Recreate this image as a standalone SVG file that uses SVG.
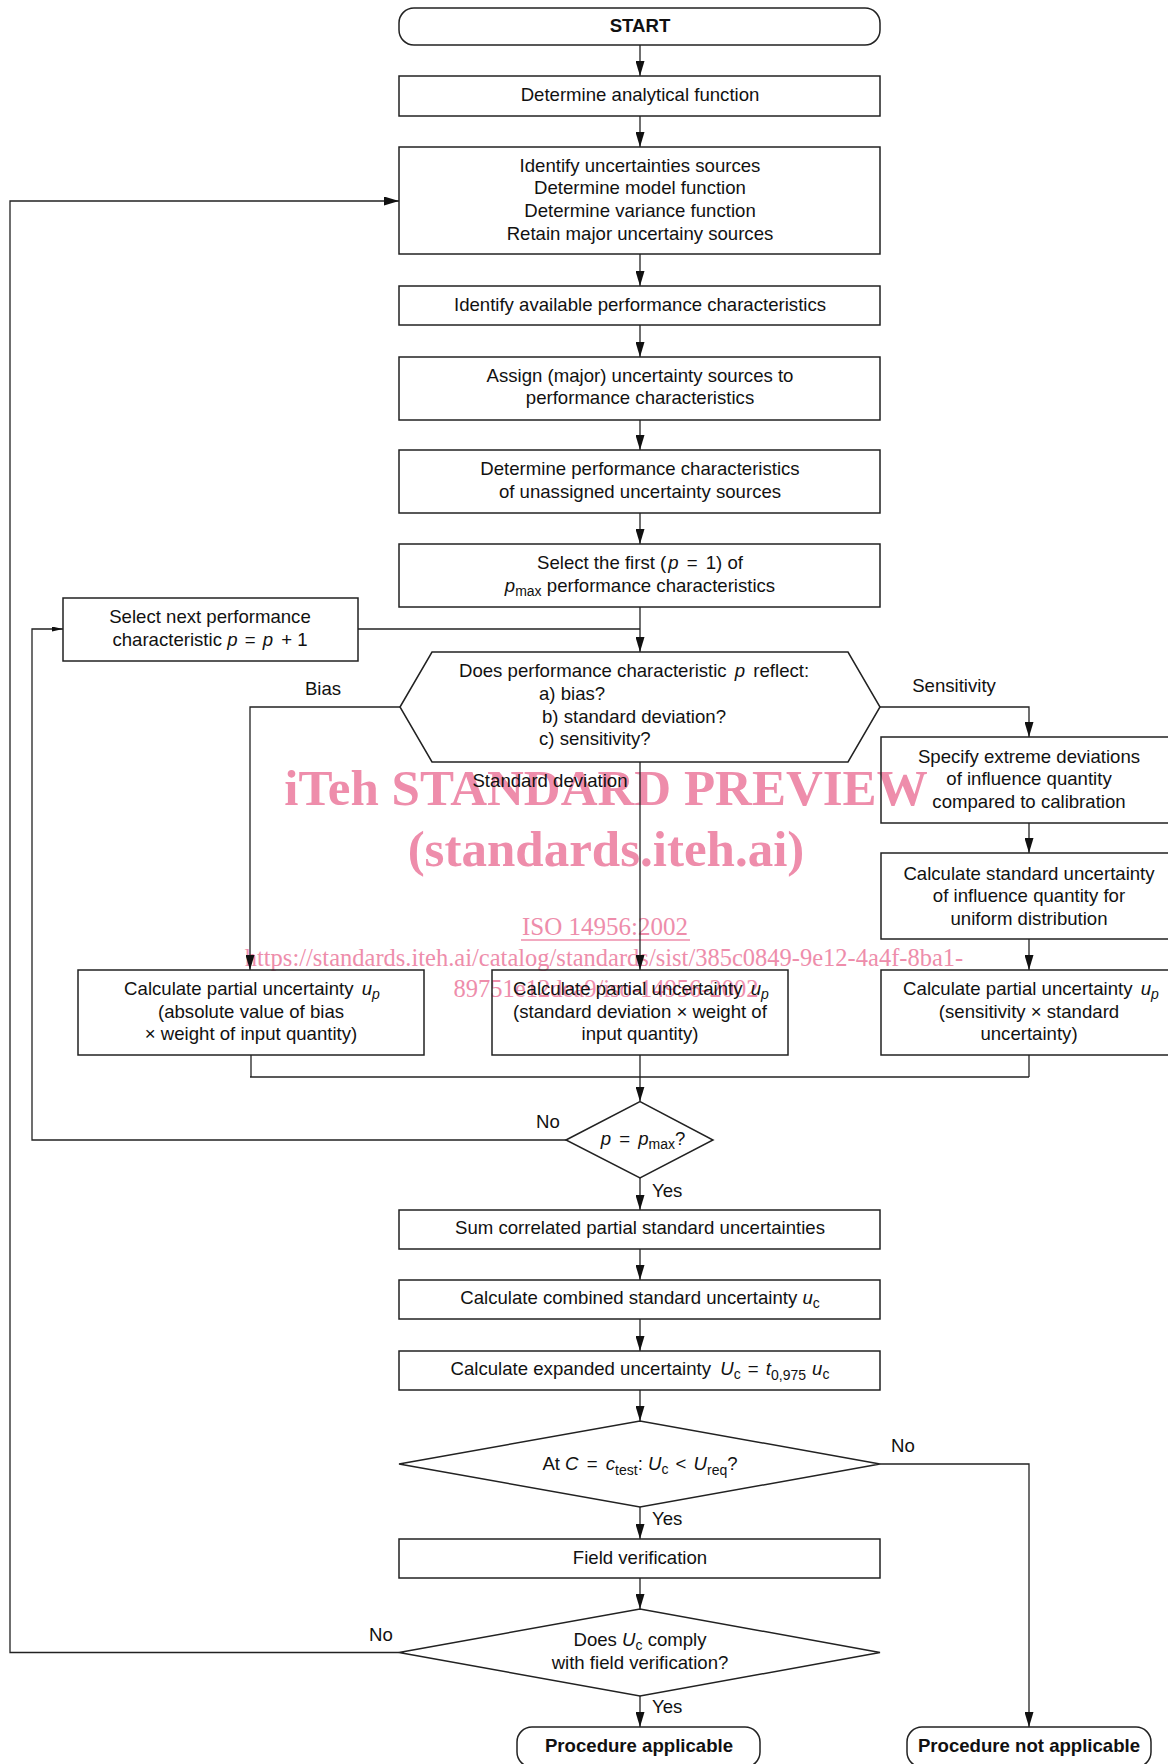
<svg xmlns="http://www.w3.org/2000/svg" width="1168" height="1764" viewBox="0 0 1168 1764">
<defs>
<style>
text { font-family: "Liberation Sans", Arial, sans-serif; font-size: 18.6px; fill: #111; }
.c { text-anchor: middle; }
.b { font-weight: bold; }
.i { font-style: italic; }
.s { font-size: 14px; }
.box { fill: none; stroke: #222; stroke-width: 1.5; }
.ln { fill: none; stroke: #222; stroke-width: 1.3; }
.ar { marker-end: url(#arr); }
.ars { marker-end: url(#arrs); }
.wm { font-family: "Liberation Serif", "Times New Roman", serif; fill: #ee8dab; }
.wmb { font-size: 51px; font-weight: bold; }
.wmr { font-size: 24.5px; }
</style>
<marker id="arr" markerWidth="15" markerHeight="9" refX="15" refY="4.5" orient="auto" markerUnits="userSpaceOnUse"><path d="M0,0 L15,4.5 L0,9 z" fill="#111"/></marker>
<marker id="arrs" markerWidth="11" markerHeight="5" refX="11" refY="2.5" orient="auto" markerUnits="userSpaceOnUse"><path d="M0,0 L11,2.5 L0,5 z" fill="#111"/></marker>
</defs>
<rect x="0" y="0" width="1168" height="1764" fill="#fff"/>

<g id="watermark">
<text class="wm wmb c" x="606" y="805">iTeh STANDARD PREVIEW</text>
<text class="wm wmb c" x="606" y="866">(standards.iteh.ai)</text>
<text class="wm c" x="605" y="935" style="font-size:25px">ISO 14956:2002</text>
<line x1="521" y1="940" x2="690" y2="940" stroke="#ee8dab" stroke-width="1.5"/>
<text class="wm wmr c" x="604" y="966">https://standards.iteh.ai/catalog/standards/sist/385c0849-9e12-4a4f-8ba1-</text>
<text class="wm wmr c" x="606" y="997">89751e12dea9/iso-14956-2002</text>
</g>

<g id="connectors">
<line class="ln ar" x1="640" y1="45" x2="640" y2="76"/>
<line class="ln ar" x1="640" y1="116" x2="640" y2="147"/>
<line class="ln ar" x1="640" y1="254" x2="640" y2="286"/>
<line class="ln ar" x1="640" y1="325" x2="640" y2="357"/>
<line class="ln ar" x1="640" y1="420" x2="640" y2="450"/>
<line class="ln ar" x1="640" y1="513" x2="640" y2="544"/>
<line class="ln ar" x1="640" y1="607" x2="640" y2="652"/>
<line class="ln" x1="358" y1="629" x2="640" y2="629"/>
<polyline class="ln ar" points="400,707 250,707 250,970"/>
<line class="ln ar" x1="640" y1="762" x2="640" y2="970"/>
<polyline class="ln ar" points="880,707 1029,707 1029,737"/>
<line class="ln ar" x1="1029" y1="823" x2="1029" y2="853"/>
<line class="ln ar" x1="1029" y1="939" x2="1029" y2="970"/>
<line class="ln" x1="251" y1="1055" x2="251" y2="1077"/>
<line class="ln" x1="640" y1="1055" x2="640" y2="1077"/>
<line class="ln" x1="1029" y1="1055" x2="1029" y2="1077"/>
<line class="ln" x1="250" y1="1077" x2="1029" y2="1077"/>
<line class="ln ar" x1="640" y1="1077" x2="640" y2="1101.5"/>
<polyline class="ln ars" points="566,1140 32,1140 32,629 63,629"/>
<line class="ln ar" x1="640" y1="1178" x2="640" y2="1210"/>
<line class="ln ar" x1="640" y1="1249" x2="640" y2="1280"/>
<line class="ln ar" x1="640" y1="1319" x2="640" y2="1351"/>
<line class="ln ar" x1="640" y1="1390" x2="640" y2="1421"/>
<polyline class="ln ar" points="880,1464 1029,1464 1029,1727"/>
<line class="ln ar" x1="640" y1="1507" x2="640" y2="1539"/>
<line class="ln ar" x1="640" y1="1578" x2="640" y2="1609"/>
<polyline class="ln ar" points="399,1652.5 10,1652.5 10,201 399,201"/>
<line class="ln ar" x1="640" y1="1696" x2="640" y2="1727"/>
<text class="c" x="323" y="695">Bias</text>
<text class="c" x="954" y="691.5">Sensitivity</text>
<text class="c" x="550" y="787">Standard deviation</text>
<text class="c" x="548" y="1128">No</text>
<text x="652" y="1196.5">Yes</text>
<text class="c" x="903" y="1451.5">No</text>
<text x="652" y="1525">Yes</text>
<text class="c" x="381" y="1641">No</text>
<text x="652" y="1713">Yes</text>
</g>

<g id="start">
<rect class="box" x="399" y="8" width="481" height="37" rx="15"/>
<text class="c b" x="640" y="32">START</text>
</g>
<g id="analytical">
<rect class="box" x="399" y="76" width="481" height="40"/>
<text class="c" x="640" y="101">Determine analytical function</text>
</g>
<g id="identify-sources">
<rect class="box" x="399" y="147" width="481" height="107"/>
<text class="c" x="640" y="171.6">Identify uncertainties sources</text>
<text class="c" x="640" y="194.3">Determine model function</text>
<text class="c" x="640" y="217">Determine variance function</text>
<text class="c" x="640" y="239.7">Retain major uncertainy sources</text>
</g>
<g id="available">
<rect class="box" x="399" y="286" width="481" height="39"/>
<text class="c" x="640" y="310.5">Identify available performance characteristics</text>
</g>
<g id="assign">
<rect class="box" x="399" y="357" width="481" height="63"/>
<text class="c" x="640" y="381.7">Assign (major) uncertainty sources to</text>
<text class="c" x="640" y="404.3">performance characteristics</text>
</g>
<g id="determine-perf">
<rect class="box" x="399" y="450" width="481" height="63"/>
<text class="c" x="640" y="475.2">Determine performance characteristics</text>
<text class="c" x="640" y="497.8">of unassigned uncertainty  sources</text>
</g>
<g id="select-first">
<rect class="box" x="399" y="544" width="481" height="63"/>
<text class="c" x="640" y="569">Select the first (<tspan class="i" dx="2">p</tspan><tspan dx="3"> = </tspan><tspan dx="3">1) of</tspan></text>
<text class="c" x="640" y="591.7"><tspan class="i">p</tspan><tspan class="s" dy="4">max</tspan><tspan dy="-4"> performance characteristics</tspan></text>
</g>
<g id="select-next">
<rect class="box" x="63" y="598" width="295" height="63"/>
<text class="c" x="210" y="623">Select next performance</text>
<text class="c" x="210" y="645.5">characteristic <tspan class="i">p</tspan><tspan dx="2"> = </tspan><tspan class="i" dx="2">p</tspan><tspan dx="3"> + 1</tspan></text>
</g>
<g id="reflect">
<polygon class="box" points="400,707 432,652 848,652 880,707 848,762 432,762"/>
<text x="459" y="677">Does performance characteristic <tspan class="i" dx="3">p</tspan><tspan dx="3"> reflect:</tspan></text>
<text x="539" y="700">a) bias?</text>
<text x="542" y="722.5">b) standard deviation?</text>
<text x="539" y="745">c) sensitivity?</text>
</g>
<g id="specify">
<rect class="box" x="881" y="737" width="300" height="86"/>
<text class="c" x="1029" y="762.5">Specify extreme deviations</text>
<text class="c" x="1029" y="785.2">of influence quantity</text>
<text class="c" x="1029" y="807.9">compared to calibration</text>
</g>
<g id="calc-standard">
<rect class="box" x="881" y="853" width="300" height="86"/>
<text class="c" x="1029" y="879.5">Calculate standard uncertainty</text>
<text class="c" x="1029" y="902.2">of influence quantity for</text>
<text class="c" x="1029" y="924.9">uniform distribution</text>
</g>
<g id="partial-bias">
<rect class="box" x="78" y="970" width="346" height="85"/>
<text class="c" x="252" y="995">Calculate partial uncertainty <tspan class="i" dx="3">u</tspan><tspan class="i s" dy="4">p</tspan></text>
<text class="c" x="251" y="1017.7">(absolute value of bias</text>
<text class="c" x="251" y="1040.4">× weight of input quantity)</text>
</g>
<g id="partial-sd">
<rect class="box" x="492" y="970" width="296" height="85"/>
<text class="c" x="641" y="995">Calculate partial uncertainty <tspan class="i" dx="3">u</tspan><tspan class="i s" dy="4">p</tspan></text>
<text class="c" x="640" y="1017.7">(standard deviation × weight of</text>
<text class="c" x="640" y="1040.4">input quantity)</text>
</g>
<g id="partial-sens">
<rect class="box" x="881" y="970" width="300" height="85"/>
<text class="c" x="1031" y="995">Calculate partial uncertainty <tspan class="i" dx="3">u</tspan><tspan class="i s" dy="4">p</tspan></text>
<text class="c" x="1029" y="1017.7">(sensitivity × standard</text>
<text class="c" x="1029" y="1040.4">uncertainty)</text>
</g>
<g id="pmax">
<polygon class="box" points="566,1140 640,1101.5 713,1140 640,1178"/>
<text class="c" x="643" y="1145"><tspan class="i">p</tspan><tspan dx="3"> = </tspan><tspan class="i" dx="3">p</tspan><tspan class="s" dy="4">max</tspan><tspan dy="-4">?</tspan></text>
</g>
<g id="sum">
<rect class="box" x="399" y="1210" width="481" height="39"/>
<text class="c" x="640" y="1234">Sum correlated partial standard uncertainties</text>
</g>
<g id="combined">
<rect class="box" x="399" y="1280" width="481" height="39"/>
<text class="c" x="640" y="1304.3">Calculate combined standard uncertainty <tspan class="i">u</tspan><tspan class="s" dy="4">c</tspan></text>
</g>
<g id="expanded">
<rect class="box" x="399" y="1351" width="481" height="39"/>
<text class="c" x="640" y="1375">Calculate expanded uncertainty <tspan class="i" dx="4">U</tspan><tspan class="s" dy="4">c</tspan><tspan dy="-4" dx="2"> = </tspan><tspan class="i" dx="2">t</tspan><tspan class="s" dy="5">0,975</tspan><tspan class="i" dy="-5" dx="6">u</tspan><tspan class="s" dy="4">c</tspan></text>
</g>
<g id="at-c">
<polygon class="box" points="399,1464 640,1421 880,1464 640,1507"/>
<text class="c" x="640" y="1470">At <tspan class="i">C</tspan><tspan dx="3"> = </tspan><tspan class="i" dx="3">c</tspan><tspan class="s" dy="5">test</tspan><tspan dy="-5">: </tspan><tspan class="i">U</tspan><tspan class="s" dy="4">c</tspan><tspan dy="-4" dx="2"> &lt; </tspan><tspan class="i" dx="2">U</tspan><tspan class="s" dy="5">req</tspan><tspan dy="-5">?</tspan></text>
</g>
<g id="field">
<rect class="box" x="399" y="1539" width="481" height="39"/>
<text class="c" x="640" y="1563.5">Field verification</text>
</g>
<g id="comply">
<polygon class="box" points="399,1652.5 640,1609 880,1652.5 640,1696"/>
<text class="c" x="640" y="1646">Does <tspan class="i">U</tspan><tspan class="s" dy="4">c</tspan><tspan dy="-4"> comply</tspan></text>
<text class="c" x="640" y="1668.7">with field verification?</text>
</g>
<g id="applicable">
<rect class="box" x="517" y="1727" width="243" height="40" rx="15"/>
<text class="c b" x="639" y="1751.5">Procedure applicable</text>
</g>
<g id="not-applicable">
<rect class="box" x="907" y="1727" width="244" height="40" rx="15"/>
<text class="c b" x="1029" y="1751.5">Procedure not applicable</text>
</g>
</svg>
